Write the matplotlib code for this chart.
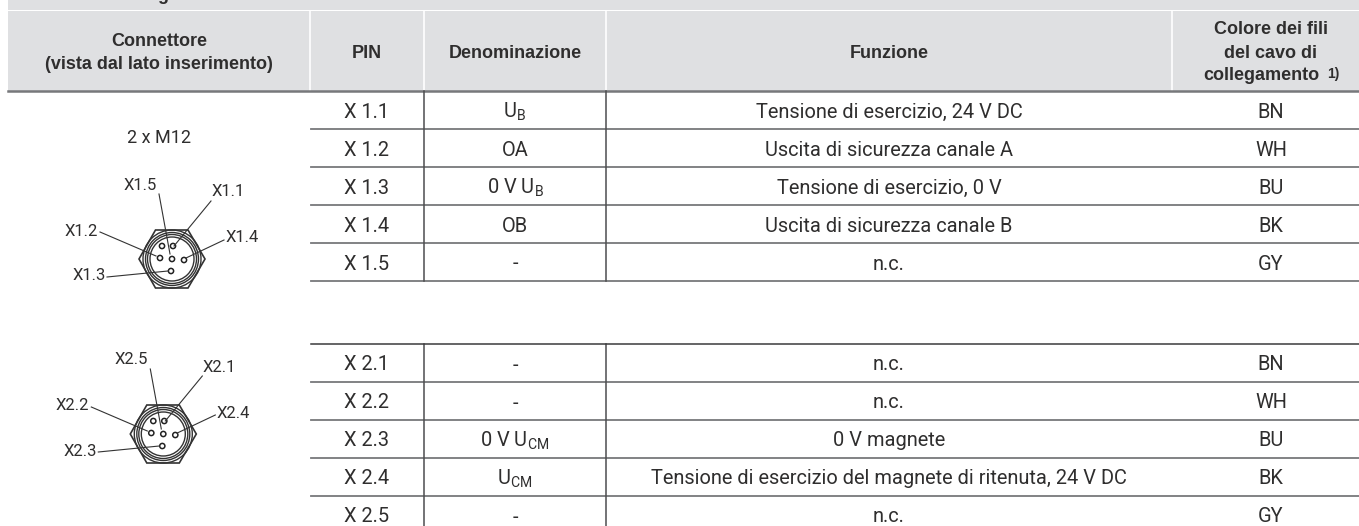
import matplotlib
matplotlib.use("Agg")
import matplotlib.pyplot as plt
from matplotlib.patches import Rectangle, Polygon, Circle

plt.rcParams['font.family'] = ['Roboto', 'DejaVu Sans']
plt.rcParams['mathtext.fontset'] = 'custom'
plt.rcParams['mathtext.rm'] = 'Roboto'
plt.rcParams['mathtext.default'] = 'rm'

# ----
# Table content
# ----
title = "Contatti di collegamento"
headers = ["Connettore\n(vista dal lato inserimento)", "PIN", "Denominazione", "Funzione"]
wire_header = ["Colore dei fili", "del cavo di", "collegamento"]
footnote = "1)"
connector_type = "2 x M12"

pins_1 = ["X 1.1", "X 1.2", "X 1.3", "X 1.4", "X 1.5"]
names_1 = ["U$_{B}$", "OA", "0 V U$_{B}$", "OB", "-"]
funcs_1 = ["Tensione di esercizio, 24 V DC", "Uscita di sicurezza canale A", "Tensione di esercizio, 0 V",
           "Uscita di sicurezza canale B", "n.c."]
wires_1 = ["BN", "WH", "BU", "BK", "GY"]

pins_2 = ["X 2.1", "X 2.2", "X 2.3", "X 2.4", "X 2.5"]
names_2 = ["-", "-", "0 V U$_{CM}$", "U$_{CM}$", "-"]
funcs_2 = ["n.c.", "n.c.", "0 V magnete", "Tensione di esercizio del magnete di ritenuta, 24 V DC", "n.c."]
wires_2 = ["BN", "WH", "BU", "BK", "GY"]

# ----
# Layout in image pixels
# ----
W, H = 1359, 526
col_edges = [8, 310, 424, 606, 1172, 1359]
text_cols = [367, 515, 889, 1271]
header_top, header_bottom = 11, 90.5
row_h = 38
top_1 = 91
top_2 = 344
GREY = '#dfe0e2'
LINE = '#77787b'
TEXT = '#2f2e2e'
BODY = 14.4
HEAD = 13

fig = plt.figure(figsize=(W / 100, H / 100), dpi=100)
ax = fig.add_axes([0, 0, 1, 1])
ax.set_xlim(0, W)
ax.set_ylim(H, 0)
ax.axis('off')

# ----
# Header band
# ----
ax.add_patch(Rectangle((8, 0), W - 8, 9.5, fc=GREY, ec='none'))
ax.text(23, 0, title, fontsize=HEAD, family='Liberation Sans', fontweight='bold', color=TEXT, va='baseline')
ax.add_patch(Rectangle((8, header_top), W - 8, header_bottom - header_top, fc=GREY, ec='none'))
for x in col_edges[1:5]:
    ax.plot([x, x], [header_top, header_bottom], color='white', lw=1.2)
ax.plot([8, W], [header_bottom, header_bottom], color=LINE, lw=1.8)

header_x = [159, 367, 515, 889]
for x, label in zip(header_x, headers):
    ax.text(x, 53, label, ha='center', va='center', fontsize=HEAD, family='Liberation Sans',
            fontweight='bold', color=TEXT, linespacing=1.4)
for y, x, label in zip([30, 53, 75], [1271, 1271, 1261], wire_header):
    ax.text(x, y, label, ha='center', va='center', fontsize=HEAD, family='Liberation Sans',
            fontweight='bold', color=TEXT)
ax.text(1333, 74, footnote, ha='center', va='center', fontsize=10, family='Liberation Sans',
        fontweight='bold', color=TEXT)


def draw_rows(top, pins, names, funcs, wires, close_bottom):
    n = len(pins)
    for i in range(n):
        y = top + (i + 0.5) * row_h + 7.5
        for x, val in zip(text_cols, [pins[i], names[i], funcs[i], wires[i]]):
            ax.text(x, y, val, ha='center', va='baseline', fontsize=BODY, color=TEXT)
        if i < n - 1 or close_bottom:
            ly = top + (i + 1) * row_h - 0.5
            ax.plot([311, W], [ly, ly], color=LINE, lw=1.3)
    for x in col_edges[2:4]:
        ax.plot([x, x], [top, top + n * row_h], color='#4d4d4f', lw=1.1)


draw_rows(top_1, pins_1, names_1, funcs_1, wires_1, True)
draw_rows(top_2, pins_2, names_2, funcs_2, wires_2, False)
ax.plot([311, W], [top_2, top_2], color='#3a3a3c', lw=1.1)

ax.text(159, 138, connector_type, ha='center', va='center', fontsize=13, color=TEXT)

# ----
# Connector drawings (offsets from the connector centre)
# ----
hex_pts = [(-33, 0), (-16.5, -29), (16, -29), (33, 0), (16, 29), (-16.5, 29)]
ring_radii = [29, 26.5, 24.5, 22]
pin_pts = [(-10, -13), (1, -13), (-12, -1), (0, 0), (12, 1), (-1, 12)]
leaders = [
    ((-13, -65), (-2, -5)),
    ((39, -58), (2, -13)),
    ((-72, -27), (-16, -3)),
    ((52, -19), (14, -1)),
    ((-65, 18), (-4, 12)),
]
label_off = [(-32, -74), (56, -67), (-91, -28), (70, -21), (-83, 17)]


def draw_connector(cx, cy, labels):
    ax.add_patch(Polygon([(cx + dx, cy + dy) for dx, dy in hex_pts], closed=True, fc='white', ec='#333333', lw=1.2))
    for r in ring_radii:
        ax.add_patch(Circle((cx, cy), r, fc='none', ec='#333333', lw=1.0))
    for dx, dy in pin_pts:
        ax.add_patch(Circle((cx + dx, cy + dy), 2.6, fc='white', ec='#222222', lw=1.1))
    for (a, b) in leaders:
        ax.plot([cx + a[0], cx + b[0]], [cy + a[1], cy + b[1]], color='#333333', lw=0.8)
    for (dx, dy), label in zip(label_off, labels):
        ax.text(cx + dx, cy + dy, label, ha='center', va='center', fontsize=12, color=TEXT)


draw_connector(172, 259, ["X1.5", "X1.1", "X1.2", "X1.4", "X1.3"])
draw_connector(163.3, 434, ["X2.5", "X2.1", "X2.2", "X2.4", "X2.3"])

fig.savefig("out.png", dpi=100)
plt.close(fig)
